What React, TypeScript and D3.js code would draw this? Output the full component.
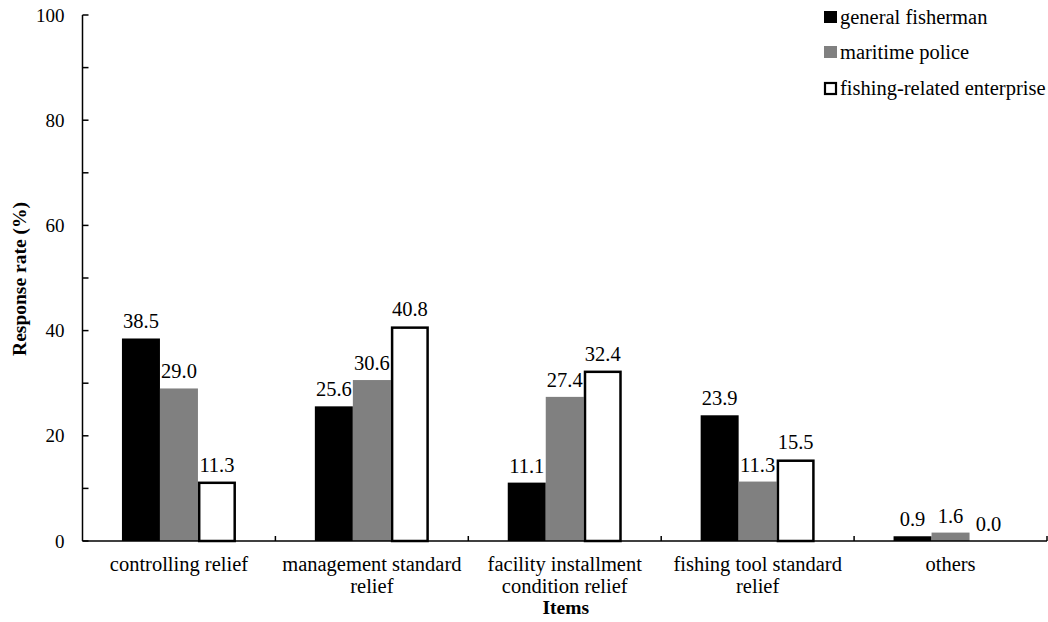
import React, { useEffect, useRef } from 'react';
import * as d3 from 'd3';

const CATEGORIES: string[][] = [
  ['controlling relief'],
  ['management standard', 'relief'],
  ['facility installment', 'condition relief'],
  ['fishing tool standard', 'relief'],
  ['others'],
];
const SERIES: string[] = ['general fisherman', 'maritime police', 'fishing-related enterprise'];
const FISHERMAN: number[] = [38.5, 25.6, 11.1, 23.9, 0.9];
const POLICE: number[] = [29.0, 30.6, 27.4, 11.3, 1.6];
const ENTERPRISE: number[] = [11.3, 40.8, 32.4, 15.5, 0.0];
const Y_TICKS: number[] = [0, 20, 40, 60, 80, 100];

const FONT = "'Liberation Serif', Tinos, 'Times New Roman', 'DejaVu Serif', serif";

export default function App() {
  const ref = useRef<SVGSVGElement>(null);

  useEffect(() => {
    const svgEl = ref.current;
    if (!svgEl) return;
    const svg = d3.select(svgEl);
    svg.selectAll('*').remove();

    const left = 82.5;
    const right = 1047;
    const top = 15;
    const bottom = 541;

    const keys = CATEGORIES.map((_, i) => String(i));
    const x = d3.scaleBand().domain(keys).range([left, right]).paddingInner(0).paddingOuter(0);
    const y = d3.scaleLinear().domain([0, 100]).range([bottom, top]);
    const barW = 38;

    const fills = ['#000000', '#808080', '#ffffff'];
    const values = [FISHERMAN, POLICE, ENTERPRISE];

    const txt = (sel: d3.Selection<SVGTextElement, unknown, null, undefined>, size: number) =>
      sel.style('font-family', FONT).style('font-size', `${size}px`).attr('fill', '#000');

    // bars
    values.forEach((vals, s) => {
      const g = svg.append('g');
      vals.forEach((v, i) => {
        const cx = (x(keys[i]) ?? 0) + x.bandwidth() / 2;
        const bx = cx - 1.5 * barW + s * barW;
        if (v > 0) {
          if (s === 2) {
            g.append('rect')
              .attr('x', bx + 1.25)
              .attr('y', y(v) + 1.25)
              .attr('width', barW - 2.5)
              .attr('height', bottom - y(v) - 1.25)
              .attr('fill', '#fff')
              .attr('stroke', '#000')
              .attr('stroke-width', 2.5);
          } else {
            g.append('rect')
              .attr('x', bx)
              .attr('y', y(v))
              .attr('width', barW)
              .attr('height', bottom - y(v))
              .attr('fill', fills[s]);
          }
        }
        txt(
          g.append('text')
            .attr('x', bx + barW / 2)
            .attr('y', y(v) - 10)
            .attr('text-anchor', 'middle'),
          20.5
        ).text(v.toFixed(1));
      });
    });

    // y axis
    svg.append('line')
      .attr('x1', left).attr('x2', left).attr('y1', top).attr('y2', bottom)
      .attr('stroke', '#000').attr('stroke-width', 1.5);
    d3.range(0, 101, 10).forEach((t) => {
      svg.append('line')
        .attr('x1', left).attr('x2', left + 6).attr('y1', y(t)).attr('y2', y(t))
        .attr('stroke', '#000').attr('stroke-width', 1.5);
    });
    Y_TICKS.forEach((t) => {
      txt(
        svg.append('text')
          .attr('x', left - 18)
          .attr('y', y(t))
          .attr('dy', '0.35em')
          .attr('text-anchor', 'end'),
        19
      ).text(String(t));
    });

    // x axis
    svg.append('line')
      .attr('x1', left).attr('x2', right).attr('y1', bottom).attr('y2', bottom)
      .attr('stroke', '#000').attr('stroke-width', 1.5);
    keys.forEach((k) => {
      const bx = (x(k) ?? 0) + x.bandwidth();
      svg.append('line')
        .attr('x1', bx).attr('x2', bx).attr('y1', bottom).attr('y2', bottom - 5)
        .attr('stroke', '#000').attr('stroke-width', 1.5);
    });
    CATEGORIES.forEach((lines, i) => {
      const cx = (x(keys[i]) ?? 0) + x.bandwidth() / 2;
      lines.forEach((ln, j) => {
        txt(
          svg.append('text')
            .attr('x', cx)
            .attr('y', 571 + j * 21.5)
            .attr('text-anchor', 'middle'),
          20.5
        ).text(ln);
      });
    });

    // axis titles
    txt(
      svg.append('text')
        .attr('x', (left + right) / 2 + 1)
        .attr('y', 614)
        .attr('text-anchor', 'middle'),
      19.5
    ).style('font-weight', 'bold').text('Items');
    txt(
      svg.append('text')
        .attr('transform', `translate(26,279) rotate(-90)`)
        .attr('text-anchor', 'middle'),
      19.5
    ).style('font-weight', 'bold').text('Response rate (%)');

    // legend
    const legendY = [17, 52, 88];
    SERIES.forEach((name, s) => {
      if (s === 2) {
        svg.append('rect')
          .attr('x', 825).attr('y', legendY[s] - 5).attr('width', 11).attr('height', 11)
          .attr('fill', '#fff').attr('stroke', '#000').attr('stroke-width', 2.2);
      } else {
        svg.append('rect')
          .attr('x', 824).attr('y', legendY[s] - 6).attr('width', 13).attr('height', 12)
          .attr('fill', fills[s]);
      }
      txt(
        svg.append('text')
          .attr('x', 840)
          .attr('y', legendY[s])
          .attr('dy', '0.35em'),
        20.5
      ).text(name);
    });
  }, []);

  return (
    <svg
      ref={ref}
      width={1048}
      height={622}
      style={{ position: 'absolute', left: 0, top: 0, background: '#fff' }}
    />
  );
}
